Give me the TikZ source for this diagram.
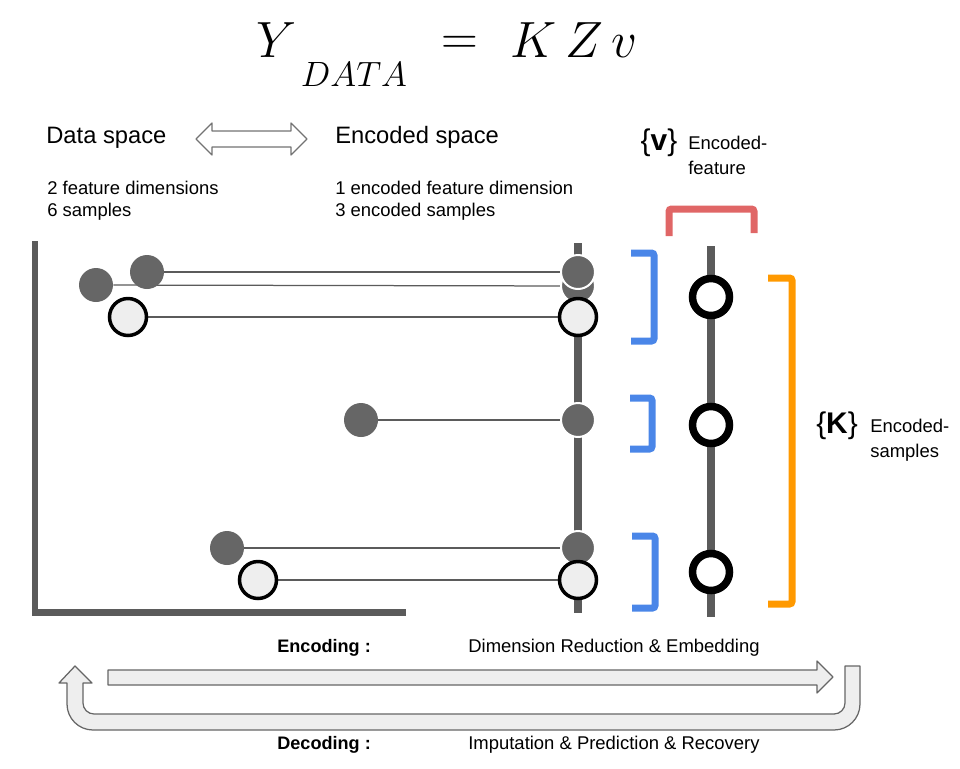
\RequirePackage{fix-cm}
\documentclass[tikz,border=0pt]{standalone}
\usepackage{fontspec}
\setmainfont{Liberation Sans}
\usetikzlibrary{backgrounds}

\definecolor{axisgray}{HTML}{5B5B5B}
\definecolor{ptgray}{HTML}{666666}
\definecolor{ptlight}{HTML}{EEEEEE}
\definecolor{kblue}{HTML}{4A86E8}
\definecolor{vred}{HTML}{E06666}
\definecolor{korange}{HTML}{FF9900}

\tikzset{
	formula/.style={font=\fontsize{29}{34}\selectfont, inner sep=0},
	heading/.style={font=\fontsize{13.5}{16}\selectfont, inner sep=0},
	lbl/.style={font=\fontsize{10.5}{12.2}\selectfont, inner sep=0, align=left},
	tag/.style={font=\fontsize{10.5}{14.2}\selectfont, inner sep=0, align=left},
	setlbl/.style={font=\fontsize{17}{19}\selectfont, inner sep=0},
	datapt/.style={circle, fill=ptgray, minimum size=0.68cm, inner sep=0},
	encpt/.style={datapt, draw=white, line width=0.4mm},
	holept/.style={circle, draw=black, fill=ptlight, minimum size=0.74cm, inner sep=0, line width=0.7mm},
	codept/.style={circle, draw=black, fill=white, minimum size=0.74cm, inner sep=0, line width=1.5mm},
	link/.style={draw=axisgray, line width=0.25mm},
	axis/.style={draw=axisgray, line width=1.5mm},
	bracket/.style={line width=1.4mm, rounded corners=0.5mm},
	blockarrow/.style={draw=black!60, fill=ptlight, line width=0.25mm, line join=round}
}

\begin{document}
\begin{tikzpicture}[x=0.02cm, y=-0.02cm]
	%%%%% START %%%%%
	\useasboundingbox (0,0) rectangle (960,768);
	
	% formula
	\node[formula, anchor=base] (Y) at (277,57) {$Y$};
	\node[formula, font=\fontsize{20}{24}\selectfont, anchor=base] (sub) at (354,86) {$DATA$};
	\node[formula, anchor=base] (eq) at (460,54) {$=$};
	\node[formula, anchor=base] (KZv) at (574,57) {$K\,Z\,v$};
	
	% headings
	\node[heading, anchor=base west] (dataspace) at (46,143) {Data space};
	\node[heading, anchor=base west] (encspace) at (335,143) {Encoded space};
	\draw[blockarrow, draw=black!55, fill=white] (196,139) -- (212,123) -- (212,131) -- (291,131) -- (291,123) -- (307,139) -- (291,155) -- (291,147) -- (212,147) -- (212,155) -- cycle;
	
	\node[lbl, anchor=north west] (datainfo) at (47,181) {2 feature dimensions\\6 samples};
	\node[lbl, anchor=north west] (encinfo) at (335,181) {1 encoded feature dimension\\3 encoded samples};
	
	% data space axes
	\draw[axis, line width=1.4mm] (35,241) -- (35,612) -- (406,612);
	
	% points
	\node[datapt] (d1) at (147,272) {};
	\node[datapt] (d2) at (96,285) {};
	\node[holept] (d3) at (128,317) {};
	\node[datapt] (d4) at (361,420) {};
	\node[datapt] (d5) at (227,548) {};
	\node[holept] (d6) at (258,580) {};
	
	\node[encpt] (e2) at (578,286) {};
	\node[encpt] (e1) at (578,272) {};
	\node[holept] (e3) at (578,317) {};
	\node[encpt] (e4) at (578,420) {};
	\node[encpt] (e5) at (578,548) {};
	\node[holept] (e6) at (578,580) {};
	
	\node[codept] (c1) at (711,297) {};
	\node[codept] (c2) at (711,425) {};
	\node[codept] (c3) at (711,572) {};
	
	\begin{pgfonlayer}{background}
		\draw[axis] (578,243) -- (578,613);
		\draw[axis] (711,246) -- (711,617);
		\draw[link] (d1) -- (e1);
		\draw[link] (d2) -- (e2);
		\draw[link] (d3) -- (e3);
		\draw[link] (d4) -- (e4);
		\draw[link] (d5) -- (e5);
		\draw[link] (d6) -- (e6);
	\end{pgfonlayer}
	
	% brackets
	\draw[bracket, kblue] (631,253) -- (654,253) -- (654,341) -- (631,341);
	\draw[bracket, kblue] (630,398) -- (652,398) -- (652,449) -- (630,449);
	\draw[bracket, kblue] (632,536) -- (655,536) -- (655,608) -- (632,608);
	\draw[bracket, vred] (669,236) -- (669,209) -- (754,209) -- (754,233);
	\draw[bracket, korange] (768,278) -- (792,278) -- (792,604) -- (768,604);
	
	\node[setlbl, anchor=base] (vset) at (659,150) {\{\textbf{v}\}};
	\node[tag, anchor=north west] (vtag) at (688,136) {Encoded-\\feature};
	\node[setlbl, anchor=base] (kset) at (837,433) {\{\textbf{K}\}};
	\node[tag, anchor=north west] (ktag) at (870,419) {Encoded-\\samples};
	
	% encoding / decoding
	\node[lbl, font=\fontsize{10.3}{12}\selectfont\bfseries, anchor=base west] (enc) at (277,652) {Encoding :};
	\node[lbl, anchor=base west] (encwhat) at (468,652) {Dimension Reduction \& Embedding};
	\draw[blockarrow] (108,670) -- (817,670) -- (817,661) -- (833,677) -- (817,693) -- (817,685) -- (108,685) -- cycle;
	\draw[blockarrow] (860,666) -- (860,704) arc (0:90:26) -- (93,730) arc (90:180:26) -- (67,683) -- (59,683) -- (75,666) -- (92,683) -- (83,683) -- (83,703) arc (180:90:11) -- (834,714) arc (90:0:11) -- (845,666) -- cycle;
	\node[lbl, font=\fontsize{10.3}{12}\selectfont\bfseries, anchor=base west] (dec) at (277,749) {Decoding :};
	\node[lbl, anchor=base west] (decwhat) at (468,749) {Imputation \& Prediction \& Recovery};
	
	%%%%% END %%%%%
\end{tikzpicture}
\end{document}
